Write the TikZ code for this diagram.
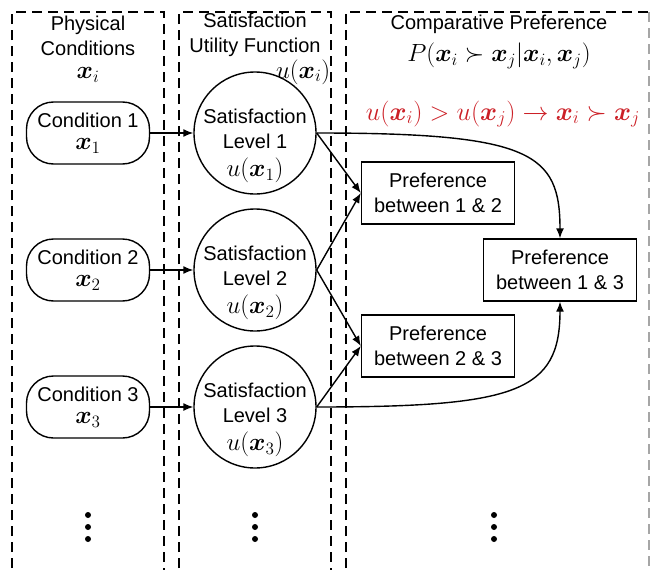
\documentclass[tikz,border=0pt]{standalone}
\usepackage{bm}
\usepackage{graphicx}
\usepackage{fontspec}
\setmainfont{Liberation Sans}
\usetikzlibrary{arrows.meta}
\definecolor{redf}{RGB}{204,32,39}
\newcommand{\mymath}[1]{\scalebox{1.2}{$#1$}}
\tikzset{
  every node/.style={font=\fontsize{20}{25}\selectfont},
  col/.style={draw, dashed, dash pattern=on 10pt off 6pt, line width=1.3pt},
  cond/.style={draw, line width=1.4pt, rounded corners=27pt, minimum width=123pt, minimum height=62pt, inner sep=0pt, align=center},
  circ/.style={draw, circle, line width=1.4pt, minimum size=122pt, inner sep=0pt},
  pref/.style={draw, line width=1.4pt, minimum width=153pt, minimum height=62pt, inner sep=0pt, align=center},
  conn/.style={line width=1.4pt, -{Latex[length=10pt,width=8pt]}},
  dot/.style={circle, fill, inner sep=0pt, minimum size=6pt}
}
\begin{document}
\begin{tikzpicture}[x=1pt,y=-1pt]
\useasboundingbox (0,0) rectangle (651,570);
% dashed columns
\begin{scope}
\clip (0,0) rectangle (651,570);
\draw[col] (12,600) -- (12,12) -- (164,12) -- (164,600);
\draw[col] (179,600) -- (179,12) -- (331,12) -- (331,600);
\draw[col] (346,600) -- (346,12) -- (649,12);
\draw[col, gray!70] (649,12) -- (649,600);
\end{scope}
% titles
\node (t1) at (88,36) [align=center] {Physical\\Conditions};
\node (t1m) at (88,75) {\mymath{\bm{x}_i}};
\node (t2) at (255,35) [align=center] {Satisfaction\\Utility Function};
\node[anchor=east, inner sep=0.5pt] (t2m) at (331,72) {\mymath{u(\bm{x}_i)}};
\node (t3) at (499,24) {Comparative Preference};
\node (t3m) at (499,56) {\mymath{P(\bm{x}_i \succ \bm{x}_j | \bm{x}_i, \bm{x}_j)}};
\node[text=redf] (rule) at (503,114) {\scalebox{1.25}{$u(\bm{x}_i) > u(\bm{x}_j) \rightarrow \bm{x}_i \succ \bm{x}_j$}};
% conditions
\node[cond] (c1) at (88,133) {Condition 1\\[-3pt]\mymath{\bm{x}_1}};
\node[cond] (c2) at (88,270) {Condition 2\\[-3pt]\mymath{\bm{x}_2}};
\node[cond] (c3) at (88,407) {Condition 3\\[-3pt]\mymath{\bm{x}_3}};
% satisfaction levels
\node[circ] (l1) at (255,133) {};
\node[circ] (l2) at (255,270) {};
\node[circ] (l3) at (255,407) {};
\node[align=center] (l1t) at (255,146) {Satisfaction\\Level 1\\[3pt]\mymath{u(\bm{x}_1)}};
\node[align=center] (l2t) at (255,283) {Satisfaction\\Level 2\\[3pt]\mymath{u(\bm{x}_2)}};
\node[align=center] (l3t) at (255,420) {Satisfaction\\Level 3\\[3pt]\mymath{u(\bm{x}_3)}};
% preferences
\node[pref] (p12) at (438,193) {Preference\\between 1 \& 2};
\node[pref] (p23) at (438,346) {Preference\\between 2 \& 3};
\node[pref] (p13) at (560,270) {Preference\\between 1 \& 3};
% connectors
\draw[conn] (c1) -- (l1);
\draw[conn] (c2) -- (l2);
\draw[conn] (c3) -- (l3);
\draw[conn] (l1.east) -- (p12.west);
\draw[conn] (l2.east) -- (p12.west);
\draw[conn] (l2.east) -- (p23.west);
\draw[conn] (l3.east) -- (p23.west);
\draw[conn] (l1.east) .. controls +(215,0) and +(0,-85) .. (p13.north);
\draw[conn] (l3.east) .. controls +(200,0) and +(0,90) .. (p13.south);
% ellipses
\foreach \x/\n in {88/a,255/b,494/c}{
  \node[dot] (d1\n) at (\x,515) {};
  \node[dot] (d2\n) at (\x,527) {};
  \node[dot] (d3\n) at (\x,539) {};
}
\end{tikzpicture}
\end{document}
